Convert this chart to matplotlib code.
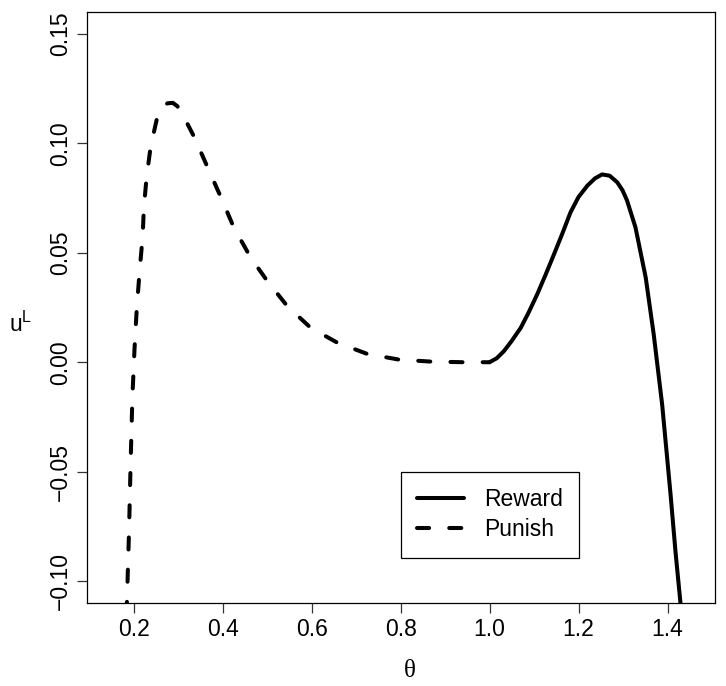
import numpy as np
import matplotlib.pyplot as plt

plt.rcParams['font.family'] = ['Liberation Sans', 'DejaVu Sans']
plt.rcParams['mathtext.default'] = 'regular'

# Punish curve (dashed)
theta_punish = [0.184, 0.1895, 0.193, 0.197, 0.202, 0.207, 0.214, 0.220, 0.223,
                0.229, 0.238, 0.253, 0.264, 0.276, 0.288, 0.298, 0.309, 0.336,
                0.366, 0.396, 0.425, 0.463, 0.500, 0.545, 0.598, 0.658, 0.725,
                0.796, 0.867, 0.942, 1.000]
u_punish = [-0.115, -0.0775, -0.047, -0.0164, 0.0066, 0.0249, 0.0433, 0.057, 0.0708,
            0.0845, 0.0983, 0.112, 0.1165, 0.1183, 0.1185, 0.1170, 0.1136, 0.1029,
            0.0891, 0.0754, 0.0616, 0.0478, 0.0372, 0.0257, 0.0157, 0.0089, 0.0038,
            0.0012, 0.0003, 0.0, 0.0]

# Reward curve (solid)
theta_reward = [1.000, 1.016, 1.032, 1.050, 1.070, 1.088, 1.107, 1.126, 1.145,
                1.164, 1.182, 1.200, 1.220, 1.237, 1.253, 1.270, 1.287, 1.299,
                1.309, 1.328, 1.351, 1.369, 1.388, 1.407, 1.418, 1.432]
u_reward = [0.0, 0.0018, 0.005, 0.0098, 0.0157, 0.0228, 0.031, 0.0400, 0.0494,
            0.0590, 0.0685, 0.0755, 0.0807, 0.0840, 0.0858, 0.0852, 0.0822, 0.0785,
            0.0739, 0.0616, 0.0387, 0.0127, -0.0194, -0.0607, -0.0867, -0.116]

x_ticks = [0.2, 0.4, 0.6, 0.8, 1.0, 1.2, 1.4]
y_ticks = [-0.10, -0.05, 0.00, 0.05, 0.10, 0.15]

fig = plt.figure(figsize=(7.26, 6.86), dpi=100)
ax = fig.add_axes([0.1198, 0.121, 0.8652, 0.8615])

ax.plot(theta_reward, u_reward, color='black', lw=2.9, solid_capstyle='round',
        solid_joinstyle='round', label='Reward')
ax.plot(theta_punish, u_punish, color='black', lw=2.9, dashes=(3.0, 5.0),
        dash_capstyle='round', dash_joinstyle='round', label='Punish')

ax.set_xlim(0.095, 1.507)
ax.set_ylim(-0.11, 0.16)
ax.set_xticks(x_ticks)
ax.set_xticklabels([f'{v:.1f}' for v in x_ticks])
ax.set_yticks(y_ticks)
ax.set_yticklabels([f'{v:.2f}'.replace('-', '\u2212') for v in y_ticks],
                   rotation=90, va='center')
ax.tick_params(direction='out', length=7, width=0.9, labelsize=16.5,
               color='#333333')
ax.tick_params(axis='x', pad=3.6)
ax.tick_params(axis='y', pad=4)
for s in ax.spines.values():
    s.set_linewidth(0.9)

ax.set_xlabel('\u03b8', fontsize=18, family=['Liberation Serif', 'DejaVu Serif'],
              va='top')
ax.xaxis.set_label_coords(0.514, -0.097)

# u^L written upright, left of the tick labels
fig.text(0.013, 0.516, '$u^L$', fontsize=16.5, ha='left', va='baseline')

leg = ax.legend(loc='upper left', bbox_to_anchor=(0.8, -0.05),
                bbox_transform=ax.transData, borderaxespad=0, fontsize=16.5,
                fancybox=False, framealpha=1, edgecolor='black',
                handlelength=2.05, handletextpad=0.86, borderpad=0.72,
                labelspacing=0.3)
leg.get_frame().set_linewidth(0.9)

fig.savefig('out.png', dpi=100)
